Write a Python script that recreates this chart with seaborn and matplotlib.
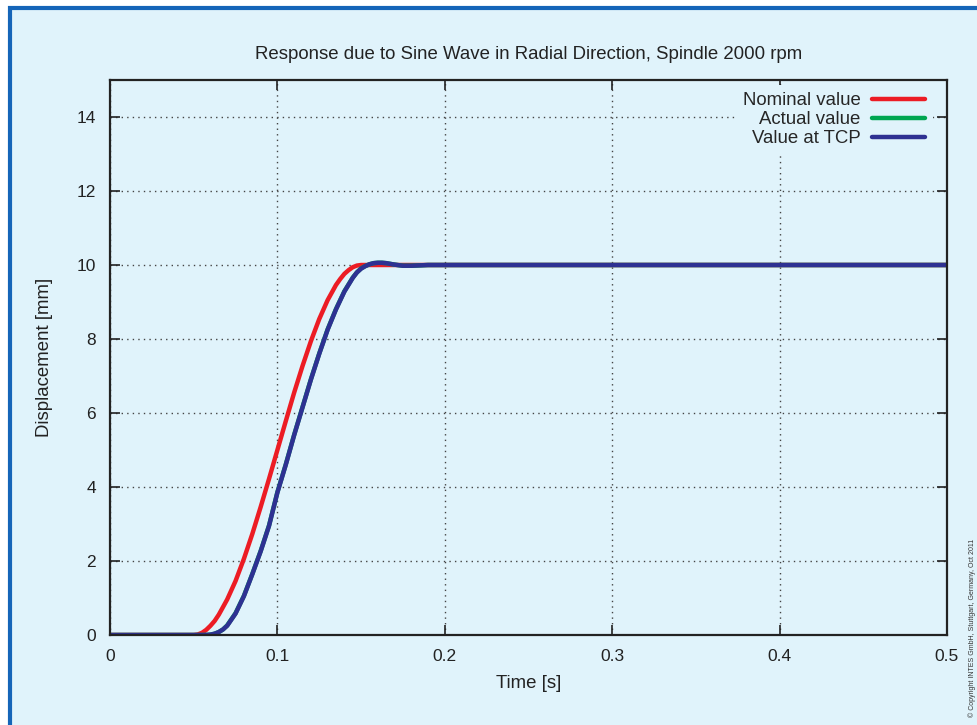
import numpy as np
import pandas as pd
import matplotlib
matplotlib.use("Agg")
import matplotlib.pyplot as plt
import seaborn as sns
from matplotlib.patches import Rectangle

# ---- data ----
t_nominal = [0.0, 0.05, 0.0525, 0.055, 0.0575, 0.06, 0.0625, 0.065, 0.07, 0.075, 0.08,
             0.085, 0.09, 0.095, 0.10, 0.105, 0.11, 0.115, 0.12, 0.125, 0.13, 0.135,
             0.1375, 0.14, 0.1425, 0.145, 0.1475, 0.15, 0.5]
y_nominal = [0.0, 0.0, 0.015, 0.06, 0.14, 0.25, 0.38, 0.55, 0.96, 1.46, 2.06,
             2.73, 3.46, 4.22, 5.0, 5.78, 6.55, 7.27, 7.94, 8.54, 9.05, 9.46,
             9.62, 9.76, 9.86, 9.94, 9.985, 10.0, 10.0]

t_actual = [0.0, 0.055, 0.0575, 0.06, 0.0625, 0.065, 0.0675, 0.07, 0.075, 0.08, 0.085,
            0.09, 0.095, 0.10, 0.105, 0.11, 0.115, 0.12, 0.125, 0.13, 0.135, 0.14,
            0.145, 0.1475, 0.15, 0.1525, 0.155, 0.1575, 0.16, 0.1625, 0.165, 0.17,
            0.175, 0.18, 0.185, 0.19, 0.5]
y_actual = [0.0, 0.0, 0.002, 0.01, 0.035, 0.08, 0.15, 0.26, 0.59, 1.06, 1.65,
            2.27, 2.96, 3.86, 4.61, 5.41, 6.16, 6.91, 7.61, 8.26, 8.81, 9.29,
            9.66, 9.80, 9.91, 9.97, 10.02, 10.05, 10.06, 10.06, 10.05, 10.01,
            9.98, 9.98, 9.99, 10.0, 10.0]

t_tcp = [0.0, 0.055, 0.0575, 0.06, 0.0625, 0.065, 0.0675, 0.07, 0.075, 0.08, 0.085,
         0.09, 0.095, 0.10, 0.105, 0.11, 0.115, 0.12, 0.125, 0.13, 0.135, 0.14,
         0.145, 0.1475, 0.15, 0.1525, 0.155, 0.1575, 0.16, 0.1625, 0.165, 0.17,
         0.175, 0.18, 0.185, 0.19, 0.5]
y_tcp = [0.0, 0.0, 0.002, 0.01, 0.035, 0.08, 0.15, 0.25, 0.58, 1.05, 1.64,
         2.26, 2.95, 3.85, 4.60, 5.40, 6.15, 6.90, 7.60, 8.25, 8.80, 9.28,
         9.65, 9.80, 9.90, 9.97, 10.02, 10.05, 10.06, 10.06, 10.05, 10.01,
         9.98, 9.98, 9.99, 10.0, 10.0]

series_names = ["Nominal value", "Actual value", "Value at TCP"]
series_colors = ["#EC1C24", "#00A651", "#2E3192"]
x_ticks = [0, 0.1, 0.2, 0.3, 0.4, 0.5]
x_tick_labels = ["0", "0.1", "0.2", "0.3", "0.4", "0.5"]
y_ticks = [0, 2, 4, 6, 8, 10, 12, 14]
y_tick_labels = ["0", "2", "4", "6", "8", "10", "12", "14"]

df = pd.concat([
    pd.DataFrame({"Time": t_nominal, "Displacement": y_nominal, "Series": series_names[0]}),
    pd.DataFrame({"Time": t_actual, "Displacement": y_actual, "Series": series_names[1]}),
    pd.DataFrame({"Time": t_tcp, "Displacement": y_tcp, "Series": series_names[2]}),
], ignore_index=True)

sns.set_style("ticks")
plt.rcParams['font.family'] = ['Liberation Sans', 'DejaVu Sans']

BG = "#E0F3FB"
BORDER = "#1565B8"
FS = 13.4

fig = plt.figure(figsize=(9.78, 7.25), dpi=100, facecolor="white")
W, H = 978, 725
fig.patches.append(Rectangle((10 / W, -0.05), 1.2, 1 - 8 / H + 0.05,
                             transform=fig.transFigure, facecolor=BG,
                             edgecolor=BORDER, linewidth=3.0, zorder=-5))

ax = fig.add_axes([110 / W, 1 - 635 / H, (947 - 110) / W, (635 - 80) / H])
ax.set_facecolor(BG)

sns.lineplot(data=df, x="Time", y="Displacement", hue="Series",
             hue_order=series_names, palette=series_colors, linewidth=3.2,
             estimator=None, sort=False, ax=ax)

ax.set_xlim(0, 0.5)
ax.set_ylim(0, 15)
ax.set_xticks(x_ticks)
ax.set_xticklabels(x_tick_labels)
ax.set_yticks(y_ticks)
ax.set_yticklabels(y_tick_labels)
ax.tick_params(direction="in", length=7, width=1.2, top=True, right=True,
               labelsize=12.5, colors="#222222", pad=10)
for s in ax.spines.values():
    s.set_linewidth(1.6)
    s.set_color("#222222")
ax.grid(True, linestyle=(0, (1, 3)), color="#444444", linewidth=1.0)

ax.set_xlabel("Time [s]", fontsize=FS, color="#222222", labelpad=8)
ax.set_ylabel("Displacement [mm]", fontsize=FS, color="#222222", labelpad=17)
ax.set_title("Response due to Sine Wave in Radial Direction, Spindle 2000 rpm",
             fontsize=FS, color="#222222", pad=15)

leg = ax.legend(loc="upper right", bbox_to_anchor=(0.9827, 0.991),
                markerfirst=False, frameon=True, fontsize=FS,
                handlelength=2.83, labelspacing=0.1, borderaxespad=0.0,
                handletextpad=0.64, fancybox=False)
leg.get_frame().set_facecolor(BG)
leg.get_frame().set_edgecolor("none")
leg.get_frame().set_alpha(1.0)
for line in leg.get_lines():
    line.set_linewidth(3.2)

fig.text(972 / W, 1 - 628 / H, "\u00a9 Copyright INTES GmbH, Stuttgart, Germany, Oct 2011",
         rotation=90, fontsize=5.0, ha="center", va="center", color="#333333")

fig.savefig("out.png", dpi=100, facecolor="white")
